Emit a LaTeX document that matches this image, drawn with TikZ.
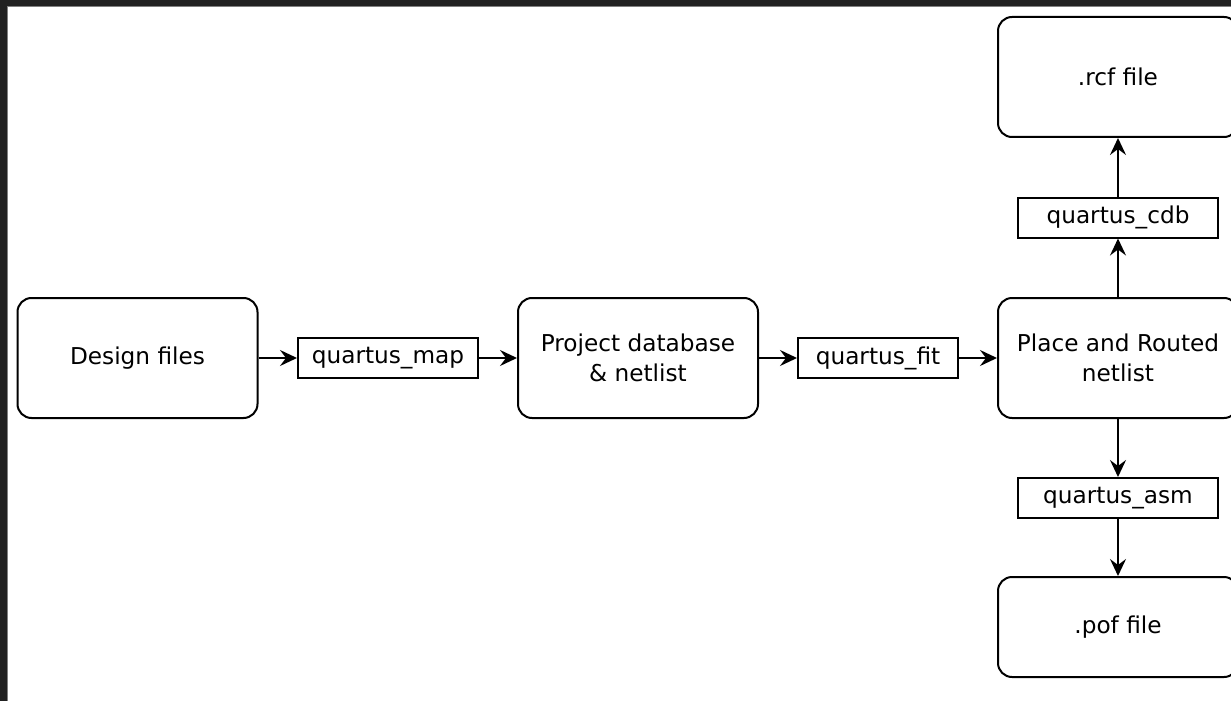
\documentclass[tikz,border=0pt]{standalone}
\usepackage{fontspec}
\setmainfont{DejaVu Sans}
\usetikzlibrary{arrows.meta}
\tikzset{
    every node/.style={draw, line width=1pt, align=center, inner sep=0pt,
    	font=\fontsize{11.6pt}{15pt}\selectfont}
}
\tikzset{
    filebox/.style={rounded corners=7pt, minimum width=120pt, minimum height=60pt},
    toolbox/.style={minimum width=100pt, minimum height=20pt}
}
\tikzset{
	every edge/.append style={line width=1pt,
	-{Stealth[length=8.5pt,width=8pt,inset=3pt]}}
}

\begin{document}
\begin{tikzpicture}[x=0.5pt,y=-0.5pt]
	\useasboundingbox (0,0) rectangle (1231,701);
	\clip (0,0) rectangle (1231,701);
	\fill[black!87] (0,0) rectangle (1231,701);
	\filldraw[fill=white, draw=gray, line width=0.5pt] (7.5,6.5) rectangle (1240,710);

	\node (design) [filebox] at (137.5, 358) {Design files};
	\node (map) [toolbox, minimum width=90pt] at (388, 358) {quartus\_map};
	\node (pdb) [filebox] at (638, 358) {Project database\\\& netlist};
	\node (fit) [toolbox, minimum width=80pt] at (878, 358) {quartus\_fit};
	\node (prn) [filebox] at (1118, 358) {Place and Routed\\netlist};
	\node (cdb) [toolbox] at (1118, 217.5) {quartus\_cdb};
	\node (rcf) [filebox] at (1118, 77) {.rcf file};
	\node (asm) [toolbox] at (1118, 498) {quartus\_asm};
	\node (pof) [filebox, minimum height=50pt] at (1118, 627) {.pof file};

	\draw (design) edge (map); \draw (map) edge (pdb);
	\draw (pdb) edge (fit); \draw (fit) edge (prn);
	\draw (prn) edge (cdb); \draw (cdb) edge (rcf);
	\draw (prn) edge (asm); \draw (asm) edge (pof);
\end{tikzpicture}
\end{document}
